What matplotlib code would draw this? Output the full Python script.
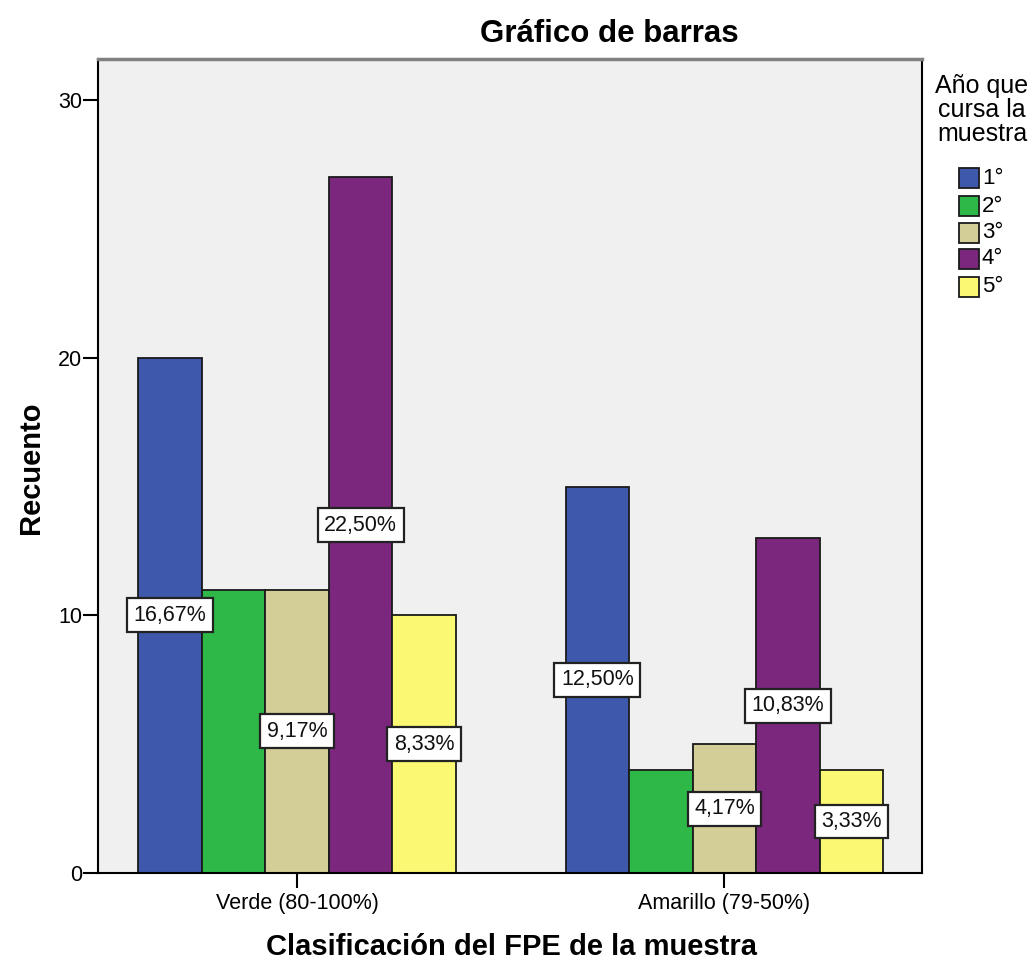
import matplotlib
matplotlib.use("Agg")
import matplotlib.pyplot as plt
from matplotlib.patches import Rectangle
import numpy as np

plt.rcParams['font.family'] = ['Liberation Sans', 'DejaVu Sans']

# ---- data ----
categories = ["Verde (80-100%)", "Amarillo (79-50%)"]
series_names = ["1°", "2°", "3°", "4°", "5°"]
counts_1 = [20, 15]
counts_2 = [11, 4]
counts_3 = [11, 5]
counts_4 = [27, 13]
counts_5 = [10, 4]
series_counts = [counts_1, counts_2, counts_3, counts_4, counts_5]
series_colors = ["#3E58AC", "#2EB848", "#D3CE97", "#7B277D", "#FBF873"]
show_pct_label = [True, False, True, True, True]
y_ticks = [0, 10, 20, 30]

W, H = 1035, 961
fig = plt.figure(figsize=(W / 100, H / 100), dpi=100)

def fx(px):
    return px / W

def fy(py):
    return 1 - py / H

ax_left, ax_right, ax_top, ax_bottom = 98, 922, 59, 873
ax = fig.add_axes([fx(ax_left), fy(ax_bottom), fx(ax_right - ax_left), (ax_bottom - ax_top) / H])
ax.set_facecolor("#F0F0F0")

total = sum(sum(s) for s in series_counts)
x = np.arange(len(categories))
bw = 0.1487
n = len(series_counts)
for i, (vals, col, show) in enumerate(zip(series_counts, series_colors, show_pct_label)):
    xs = x + (i - (n - 1) / 2) * bw
    ax.bar(xs, vals, width=bw, color=col, edgecolor="#1a1a1a", linewidth=1.3, zorder=2)
    if show:
        for xi, v in zip(xs, vals):
            pct = v / total * 100
            txt = f"{pct:.2f}%".replace(".", ",")
            ax.text(xi, v / 2, txt, ha="center", va="center", fontsize=15.5, color="#111111",
                    zorder=5,
                    bbox=dict(boxstyle="square,pad=0.3", facecolor="white", edgecolor="#222222", linewidth=1.6))

ax.set_xlim(-0.466, 1.4625)
ax.set_ylim(0, 31.6)
ax.set_xticks(x)
ax.set_xticklabels(categories, fontsize=15.5)
ax.set_yticks(y_ticks)
ax.set_yticklabels([str(t) for t in y_ticks], fontsize=15.5)
ax.tick_params(axis="y", length=10.5, width=1.5, pad=1, color="black")
ax.tick_params(axis="x", length=10.5, width=1.5, pad=4, color="black")
for side in ["left", "bottom", "right"]:
    ax.spines[side].set_linewidth(1.5)
    ax.spines[side].set_color("black")
ax.spines["top"].set_linewidth(2.5)
ax.spines["top"].set_color("#808080")

# axis labels and title
fig.text(fx(609), fy(34), "Gráfico de barras", ha="center", va="center", fontsize=22.5, fontweight="bold")
fig.text(fx(511), fy(947), "Clasificación del FPE de la muestra", ha="center", va="center", fontsize=21, fontweight="bold")
fig.text(fx(31), fy(468), "Recuento", ha="center", va="center", rotation=90, fontsize=21, fontweight="bold")

# legend
fig.text(fx(982), fy(110), "Año que\ncursa la\nmuestra", ha="center", va="center", fontsize=18,
         linespacing=1.02, multialignment="center")
row_y = [178, 206, 233, 259, 287]
for name, col, ry in zip(series_names, series_colors, row_y):
    fig.add_artist(Rectangle((fx(959), fy(ry + 10)), fx(20), 20 / H, transform=fig.transFigure,
                             facecolor=col, edgecolor="#1a1a1a", linewidth=1.3))
    fig.text(fx(982), fy(ry), name, ha="left", va="center", fontsize=16)

fig.savefig("out.png", dpi=100, facecolor="white")
